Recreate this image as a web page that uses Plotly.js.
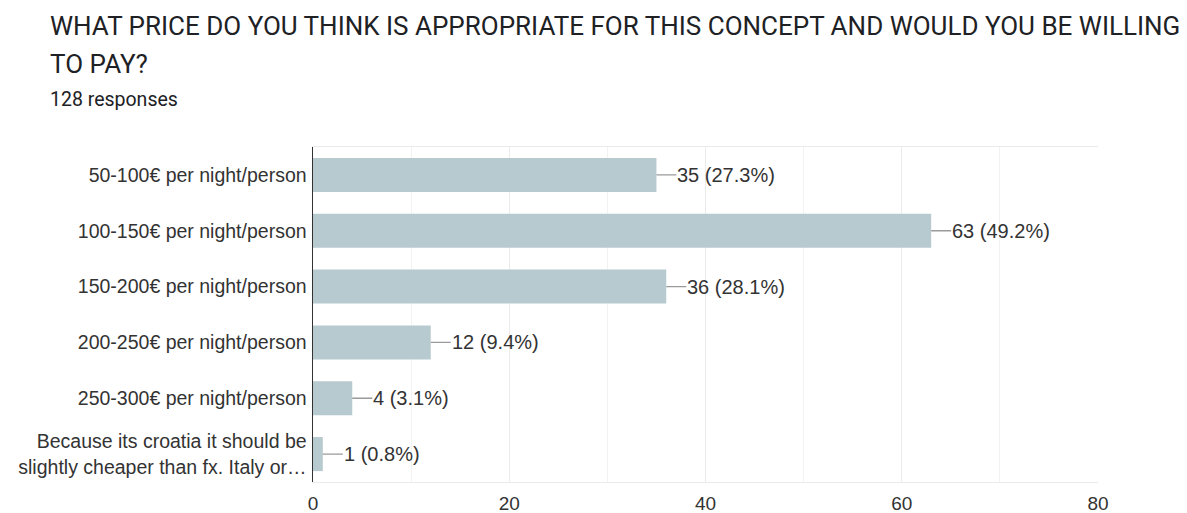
<!DOCTYPE html>
<html>
<head>
<meta charset="utf-8">
<script src="https://cdn.plot.ly/plotly-3.0.1.min.js"></script>
<style>
html,body{margin:0;padding:0;background:#fff;}
#chart{width:1187px;height:513px;}
</style>
</head>
<body>
<div id="chart"></div>
<script>
const categories = [
  "50-100€ per night/person",
  "100-150€ per night/person",
  "150-200€ per night/person",
  "200-250€ per night/person",
  "250-300€ per night/person",
  "Because its croatia it should be<br>slightly cheaper than fx. Italy or…"
];
const counts = [35, 63, 36, 12, 4, 1];
const percents = ["27.3%", "49.2%", "28.1%", "9.4%", "3.1%", "0.8%"];
const xTicks = [0, 20, 40, 60, 80];

const trace = {
  type: 'bar',
  orientation: 'h',
  y: categories,
  x: counts,
  marker: {color: '#b7cad0'},
  hoverinfo: 'none'
};

const annotations = counts.map((v, i) => ({
  x: v, y: categories[i], xref: 'x', yref: 'y',
  text: v + ' (' + percents[i] + ')',
  showarrow: true, arrowhead: 0, arrowwidth: 1.3, arrowcolor: '#9a9a9a',
  ax: 20, ay: 0, standoff: 0, xanchor: 'left', borderpad: 0,
  font: {family: 'Liberation Sans, Arial, sans-serif', size: 20, color: '#333333'}
}));

const titleX = -(313 - 48) / 785;
annotations.push({
  xref: 'paper', yref: 'paper', x: titleX, y: 1 + (147-26)/335, xanchor: 'left', yanchor: 'middle',
  text: 'WHAT PRICE DO YOU THINK IS APPROPRIATE FOR THIS CONCEPT AND WOULD YOU BE WILLING', showarrow: false,
  font: {family: 'Roboto, sans-serif', size: 26, color: '#202124'}
});
annotations.push({
  xref: 'paper', yref: 'paper', x: titleX, y: 1 + (147-64)/335, xanchor: 'left', yanchor: 'middle',
  text: 'TO PAY?', showarrow: false,
  font: {family: 'Roboto, sans-serif', size: 26, color: '#202124'}
});
annotations.push({
  xref: 'paper', yref: 'paper', x: titleX, y: 1 + (147-99)/335, xanchor: 'left', yanchor: 'middle',
  text: '128 responses', showarrow: false,
  font: {family: 'Roboto, sans-serif', size: 19.5, color: '#202124'}
});

const layout = {
  width: 1187, height: 513,
  margin: {l: 313, r: 89, t: 147, b: 31, pad: 0},
  paper_bgcolor: '#fff', plot_bgcolor: '#fff',
  showlegend: false,
  bargap: 0.39,
  xaxis: {
    range: [0, 80], tickvals: xTicks, ticktext: xTicks.map(String),
    showgrid: true, gridcolor: '#ebebeb', gridwidth: 1,
    minor: {dtick: 10, showgrid: true, gridcolor: '#f2f2f2', gridwidth: 1},
    zeroline: false, showline: true, mirror: true, linecolor: '#ebebeb', linewidth: 1,
    ticks: '', ticklabelstandoff: 4,
    tickfont: {family: 'Liberation Sans, Arial, sans-serif', size: 19, color: '#333333'},
    fixedrange: true
  },
  yaxis: {
    autorange: 'reversed', showgrid: false, zeroline: false,
    showline: true, linecolor: '#333333', linewidth: 1.5,
    ticks: '', ticklabelstandoff: 1,
    tickfont: {family: 'Liberation Sans, Arial, sans-serif', size: 19.5, color: '#333333'},
    fixedrange: true
  },
  annotations: annotations
};

Plotly.newPlot('chart', [trace], layout, {displayModeBar: false, staticPlot: true});
</script>
</body>
</html>
